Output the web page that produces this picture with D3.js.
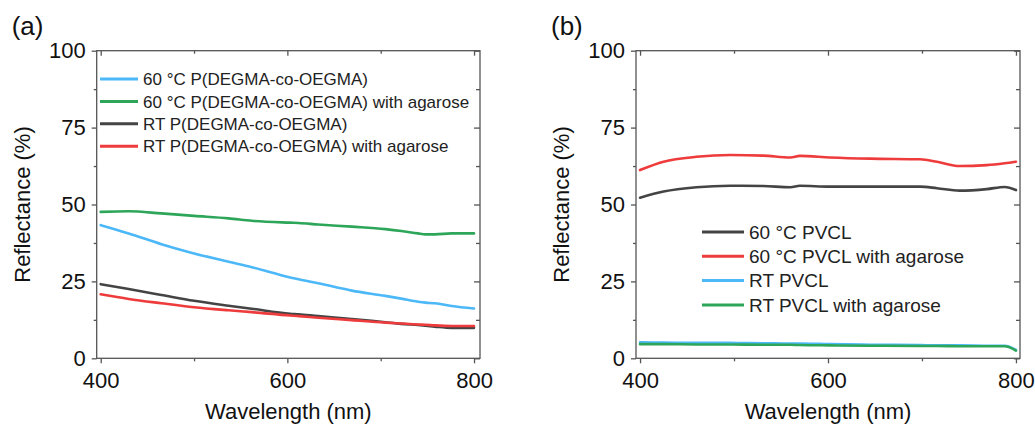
<!DOCTYPE html>
<html><head><meta charset="utf-8">
<script src="https://cdn.jsdelivr.net/npm/d3@7"></script>
<style>
body{margin:0;background:#fff;}
svg{display:block;font-family:"Liberation Sans",Arial,sans-serif;}
</style></head>
<body><svg id="c" width="1035" height="425"></svg>
<script>
// ---------- data ----------
const wlA = [400,430,465,500,537,562,603,612,633,669,705,722,740,748,758,776,800];
const a60 = [43.3,40.6,37.1,34.1,31.4,29.6,26.3,25.7,24.4,22.0,20.3,19.4,18.4,18.1,17.9,17.0,16.2];
const a60Aga = [47.6,47.8,47.1,46.3,45.5,44.7,44.1,44.0,43.5,42.8,42.0,41.4,40.6,40.3,40.3,40.6,40.6];
const aRT = [24.1,22.5,20.6,18.7,17.1,16.1,14.5,14.3,13.7,12.8,11.7,11.2,10.8,10.6,10.3,9.9,9.9];
const aRTAga = [20.8,19.3,17.9,16.6,15.6,15.0,13.9,13.7,13.2,12.4,11.6,11.3,11.0,10.9,10.7,10.5,10.5];

const wlB = [400,425,460,496,531,560,570,602,645,698,716,740,769,788,800];
const b60 = [52.2,54.2,55.6,56.1,56.0,55.6,56.1,55.8,55.8,55.8,55.3,54.5,55.0,55.7,54.7];
const b60Aga = [61.2,63.9,65.5,66.1,65.9,65.3,65.8,65.3,64.9,64.7,63.9,62.5,62.8,63.4,63.9];
const bRT = [5.2,5.1,5.0,5.0,4.9,4.8,4.8,4.6,4.4,4.3,4.2,4.2,4.1,4.1,2.7];
const bRTAga = [4.6,4.6,4.5,4.5,4.4,4.4,4.3,4.2,4.1,4.0,4.0,3.9,3.9,3.9,2.5];

const labelsA = ["60 °C P(DEGMA-co-OEGMA)","60 °C P(DEGMA-co-OEGMA) with agarose","RT P(DEGMA-co-OEGMA)","RT P(DEGMA-co-OEGMA) with agarose"];
const labelsB = ["60 °C PVCL","60 °C PVCL with agarose","RT PVCL","RT PVCL with agarose"];
const xMajor = [400,600,800], xMinor = [500,700];
const yMajor = [0,25,50,75,100], yMinor = [12.5,37.5,62.5,87.5];

const C = {blue:"#4cb8f8", green:"#2ea65a", gray:"#444444", red:"#ee3b3b"};
const AX = "#555";

const svg = d3.select("#c");

function panel(opt){
  const g = svg.append("g");
  const x = d3.scaleLinear().domain(opt.xdom).range([opt.x0, opt.x1]);
  const y = d3.scaleLinear().domain([0,100]).range([358.3, 50.7]);

  // series
  const line = d3.line().x(d=>x(d[0])).y(d=>y(d[1])).curve(d3.curveMonotoneX);
  opt.series.forEach(s=>{
    g.append("path").datum(opt.wl.map((w,i)=>[w,s.v[i]]))
      .attr("d",line).attr("fill","none").attr("stroke",s.c)
      .attr("stroke-width",2.6).attr("stroke-linejoin","round").attr("stroke-linecap","round");
  });

  // frame
  g.append("rect").attr("x",opt.x0).attr("y",y(100)).attr("width",opt.x1-opt.x0).attr("height",y(0)-y(100))
    .attr("fill","none").attr("stroke",AX).attr("stroke-width",1.3);

  function styleAx(sel){
    sel.select(".domain").remove();
    sel.selectAll("line").attr("stroke",AX).attr("stroke-width",1.3);
    sel.selectAll("text").attr("fill","#111").style("font-size","22px").style("font-family",'"Liberation Sans",Arial,sans-serif');
  }
  g.append("g").attr("transform",`translate(0,${y(0)})`)
    .call(d3.axisBottom(x).tickValues(xMajor).tickSize(5).tickPadding(9).tickFormat(d3.format("d"))).call(styleAx);
  g.append("g").attr("transform",`translate(0,${y(0)})`)
    .call(d3.axisBottom(x).tickValues(xMinor).tickSize(3).tickFormat("")).call(styleAx);
  g.append("g").attr("transform",`translate(0,${y(100)})`)
    .call(d3.axisTop(x).tickValues(xMajor).tickSize(-5).tickFormat("")).call(styleAx);
  g.append("g").attr("transform",`translate(0,${y(100)})`)
    .call(d3.axisTop(x).tickValues(xMinor).tickSize(-3).tickFormat("")).call(styleAx);
  g.append("g").attr("transform",`translate(${opt.x0},0)`)
    .call(d3.axisLeft(y).tickValues(yMajor).tickSize(5).tickPadding(6).tickFormat(d3.format("d"))).call(styleAx);
  g.append("g").attr("transform",`translate(${opt.x0},0)`)
    .call(d3.axisLeft(y).tickValues(yMinor).tickSize(3).tickFormat("")).call(styleAx);
  g.append("g").attr("transform",`translate(${opt.x1},0)`)
    .call(d3.axisRight(y).tickValues(yMajor).tickSize(-6).tickFormat("")).call(styleAx);
  g.append("g").attr("transform",`translate(${opt.x1},0)`)
    .call(d3.axisRight(y).tickValues(yMinor).tickSize(-4).tickFormat("")).call(styleAx);

  // titles
  g.append("text").attr("x",(opt.x0+opt.x1)/2).attr("y",419).attr("text-anchor","middle")
    .style("font-size","22px").attr("fill","#111").text("Wavelength (nm)");
  g.append("text").attr("transform",`translate(${opt.x0-67},${(y(0)+y(100))/2}) rotate(-90)`)
    .attr("text-anchor","middle").style("font-size","22px").attr("fill","#111").text("Reflectance (%)");
  g.append("text").attr("x",opt.x0-85).attr("y",35).style("font-size","26px").attr("fill","#111").text(opt.tag);

  // legend
  const lg = g.append("g");
  opt.series.forEach((s,i)=>{
    const ly = opt.ly0 + i*opt.ldy;
    lg.append("line").attr("x1",opt.lx).attr("x2",opt.lx+opt.lw).attr("y1",ly).attr("y2",ly)
      .attr("stroke",s.c).attr("stroke-width",3);
    lg.append("text").attr("x",opt.lx+opt.lw+5).attr("y",ly).attr("dy","0.36em")
      .style("font-size",opt.lfs+"px").attr("fill","#222").text(opt.labels[i]);
  });
}

panel({x0:96.7,x1:480,xdom:[395.7,806.4],wl:wlA,tag:"(a)",labels:labelsA,
  series:[{v:a60,c:C.blue},{v:a60Aga,c:C.green},{v:aRT,c:C.gray},{v:aRTAga,c:C.red}],
  lx:100,lw:38,ly0:79,ldy:22.4,lfs:17});
panel({x0:636,x1:1020,xdom:[395.7,804.3],wl:wlB,tag:"(b)",labels:labelsB,
  series:[{v:b60,c:C.gray},{v:b60Aga,c:C.red},{v:bRT,c:C.blue},{v:bRTAga,c:C.green}],
  lx:702,lw:42,ly0:232,ldy:24.3,lfs:19});
</script></body></html>
